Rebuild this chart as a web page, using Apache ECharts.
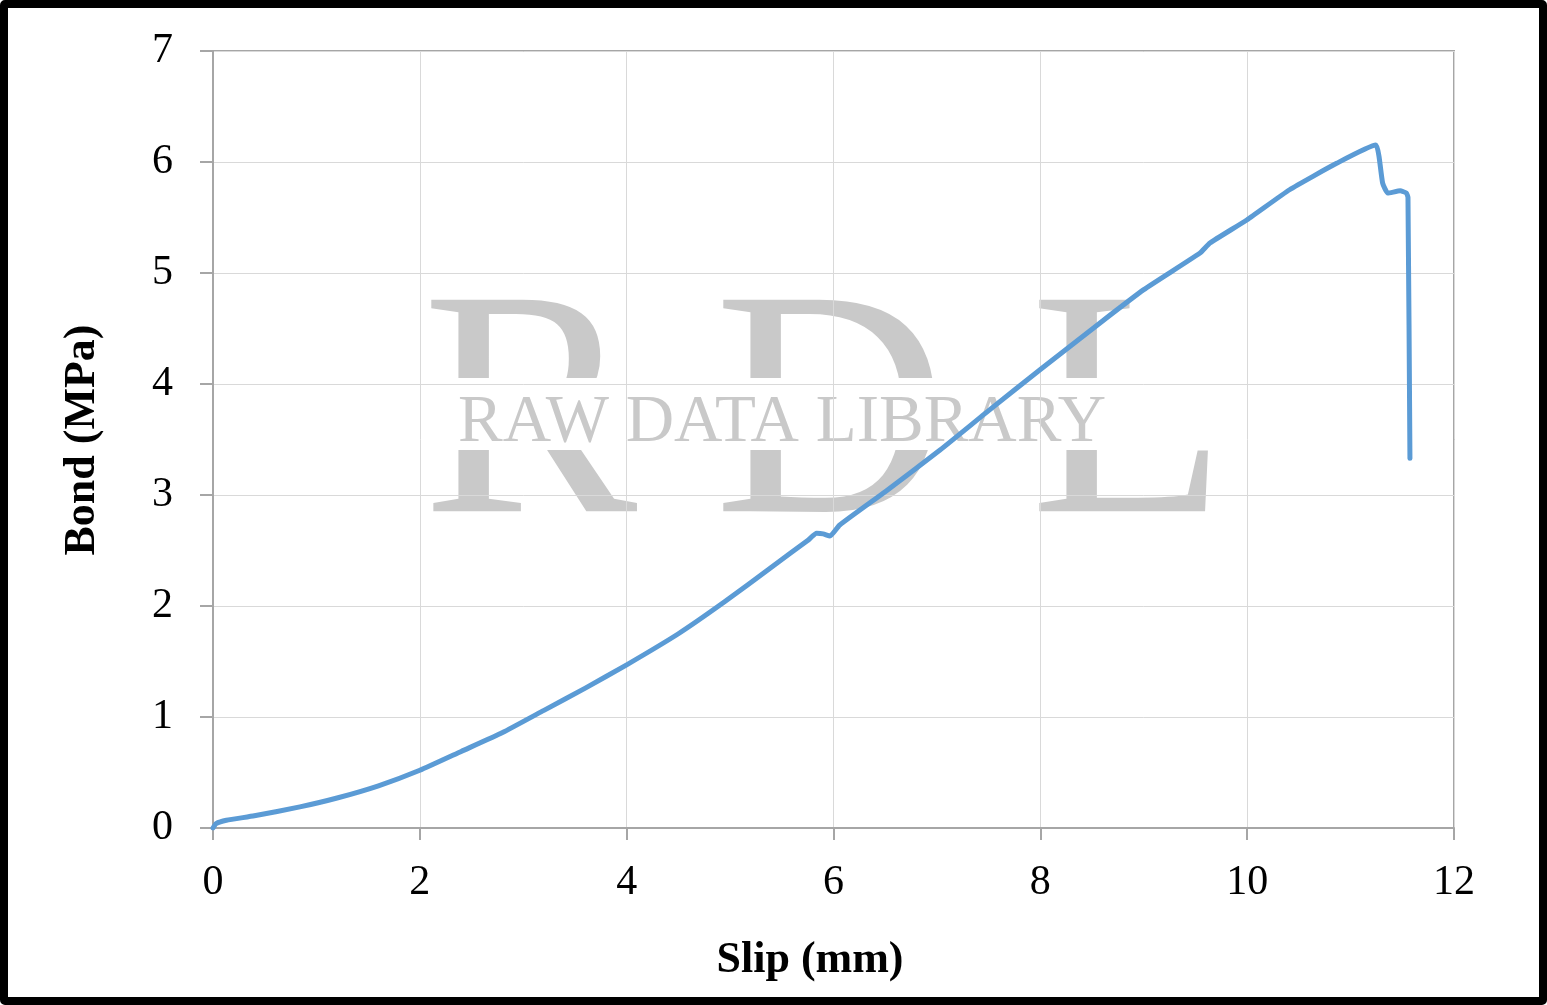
<!DOCTYPE html>
<html>
<head>
<meta charset="utf-8">
<script src="https://cdn.jsdelivr.net/npm/echarts@6/dist/echarts.min.js"></script>
<style>
html,body{margin:0;padding:0;background:#fff;}
#wrap{position:relative;width:1547px;height:1005px;}
#chart{position:absolute;left:0;top:0;width:1547px;height:1005px;}
#frame{position:absolute;left:0;top:0;width:1547px;height:1005px;box-sizing:border-box;border:8px solid #000;border-radius:5px;pointer-events:none;}
</style>
</head>
<body>
<div id="wrap"><div id="chart"></div><div id="frame"></div></div>
<script>
const slip = [0, 0.03, 0.13, 0.4, 0.84, 1.2, 1.6, 2.0, 2.4, 2.8, 3.2, 3.6, 4.0, 4.5, 4.95, 5.4, 5.75, 5.837, 5.9, 5.966, 6.06, 6.5, 7.03, 7.5, 8.0, 8.577, 9.0, 9.544, 9.64, 10.0, 10.41, 10.865, 11.245, 11.275, 11.31, 11.36, 11.48, 11.54, 11.555, 11.574];
const bond = [0, 0.04, 0.07, 0.11, 0.19, 0.27, 0.38, 0.52, 0.69, 0.86, 1.06, 1.26, 1.47, 1.75, 2.04, 2.35, 2.59, 2.655, 2.65, 2.63, 2.73, 3.03, 3.405, 3.76, 4.13, 4.55, 4.85, 5.18, 5.27, 5.48, 5.75, 5.988, 6.153, 6.05, 5.81, 5.72, 5.74, 5.72, 5.68, 3.33];
const xTicks = [0, 2, 4, 6, 8, 10, 12];
const yTicks = [0, 1, 2, 3, 4, 5, 6, 7];
const xTitle = 'Slip (mm)';
const yTitle = 'Bond (MPa)';
const wmLetters = ['R', 'D', 'L'];
const wmText = 'RAW DATA LIBRARY';

const serif = '"Times New Roman", "Liberation Serif", serif';
const chart = echarts.init(document.getElementById('chart'));
const wmX = [422, 714, 1030];
const graphics = wmLetters.map((ch, i) => ({
  type: 'text', left: wmX[i], top: 265, z: -3, silent: true,
  style: { text: ch, font: '323px ' + serif, fill: '#c9c9c9' }
}));
graphics.push({
  type: 'rect', z: -2, silent: true,
  shape: { x: 420, y: 378, width: 810, height: 72 },
  style: { fill: '#fff' }
});
graphics.push({
  type: 'text', left: 458, top: 390, z: -1, silent: true,
  style: { text: wmText, font: '67px ' + serif, fill: '#c9c9c9' }
});
graphics.push({
  type: 'text', x: 810, y: 961, z: 5,
  style: { text: xTitle, font: 'bold 44px ' + serif, fill: '#000', align: 'center', verticalAlign: 'middle' }
});
graphics.push({
  type: 'text', x: 83, y: 440, rotation: Math.PI / 2, z: 5,
  style: { text: yTitle, font: 'bold 44px ' + serif, fill: '#000', align: 'center', verticalAlign: 'middle' }
});

chart.setOption({
  animation: false,
  backgroundColor: '#fff',
  grid: { left: 213, right: 93, top: 51, bottom: 177, show: true, borderColor: '#a6a6a6', borderWidth: 2, backgroundColor: 'transparent' },
  xAxis: {
    type: 'value', min: xTicks[0], max: xTicks[xTicks.length - 1], interval: 2,
    axisLine: { show: true, lineStyle: { color: '#a6a6a6', width: 2 } },
    axisTick: { show: true, length: 12, lineStyle: { color: '#a6a6a6', width: 2 } },
    axisLabel: { margin: 34, color: '#000', fontSize: 42, fontFamily: serif },
    splitLine: { show: true, lineStyle: { color: '#d9d9d9', width: 1 } }
  },
  yAxis: {
    type: 'value', min: yTicks[0], max: yTicks[yTicks.length - 1], interval: 1,
    axisLine: { show: true, lineStyle: { color: '#a6a6a6', width: 2 } },
    axisTick: { show: true, length: 13, lineStyle: { color: '#a6a6a6', width: 2 } },
    axisLabel: { margin: 40, color: '#000', fontSize: 42, fontFamily: serif },
    splitLine: { show: true, lineStyle: { color: '#d9d9d9', width: 1 } }
  },
  graphic: graphics,
  series: [{
    type: 'line', z: 3,
    data: slip.map((s, i) => [s, bond[i]]),
    showSymbol: false, symbol: 'none',
    lineStyle: { color: '#5b9bd5', width: 5, cap: 'round', join: 'round' },
    smooth: 0.15
  }]
});
</script>
</body>
</html>
